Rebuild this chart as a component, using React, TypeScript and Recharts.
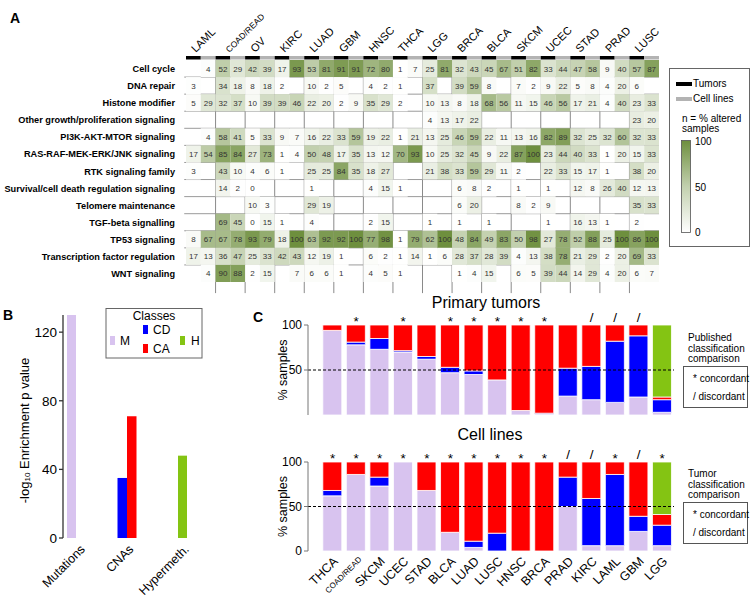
import React from 'react'
import {
  ScatterChart,
  Scatter,
  BarChart,
  Bar,
  XAxis,
  YAxis,
  ReferenceLine,
  ReferenceDot,
  Label,
} from 'recharts'

const FONT = '"Liberation Sans", Arial, sans-serif'
const _ = null

// ---- panel A: pathway alteration heatmap (tumor, cell line pairs) ----
const cancerTypes = ['LAML', 'COAD/READ', 'OV', 'KIRC', 'LUAD', 'GBM', 'HNSC', 'THCA', 'LGG', 'BRCA', 'BLCA', 'SKCM', 'UCEC', 'STAD', 'PRAD', 'LUSC']
const pathways = [
  'Cell cycle',
  'DNA repair',
  'Histone modifier',
  'Other growth/proliferation signaling',
  'PI3K-AKT-MTOR signaling',
  'RAS-RAF-MEK-ERK/JNK signaling',
  'RTK signaling family',
  'Survival/cell death regulation signaling',
  'Telomere maintenance',
  'TGF-beta signalling',
  'TP53 signaling',
  'Transcription factor regulation',
  'WNT signaling',
]

const cellCycle = [_, 4, 52, 29, 42, 39, 17, 93, 53, 81, 91, 91, 72, 80, 1, 7, 25, 81, 32, 43, 45, 67, 51, 82, 33, 44, 47, 58, 9, 40, 57, 87]
const dnaRepair = [3, _, 34, 18, 8, 18, 2, _, 10, 2, 5, _, 4, 2, 1, _, 37, _, 39, 59, 8, _, 7, 2, 9, 22, 5, 8, 4, 20, 6, _]
const histone = [5, 29, 32, 37, 10, 39, 39, 46, 22, 20, 2, 9, 35, 29, 2, _, 10, 13, 8, 18, 68, 56, 11, 15, 46, 56, 17, 21, 4, 40, 23, 33]
const otherGrowth = [_, _, _, _, _, _, _, _, _, _, _, _, _, _, _, _, 4, 13, 17, 22, _, _, _, _, _, _, _, _, _, _, 23, 20]
const pi3k = [_, 4, 58, 41, 5, 33, 9, 7, 16, 22, 33, 59, 19, 22, 1, 21, 13, 25, 46, 59, 22, 11, 13, 16, 82, 89, 32, 25, 32, 60, 32, 33]
const ras = [17, 54, 85, 84, 27, 73, 1, 4, 50, 48, 17, 35, 13, 12, 70, 93, 10, 25, 32, 45, 9, 22, 87, 100, 23, 44, 40, 33, 1, 20, 15, 33]
const rtk = [3, _, 43, 10, 4, 6, 1, _, 25, 25, 84, 35, 18, 27, _, _, 21, 38, 33, 59, 29, 11, 2, _, 22, 33, 15, 17, 1, _, 38, 20]
const survival = [_, _, 14, 2, 0, _, _, _, 1, _, _, _, 4, 15, 1, _, _, _, 6, 8, 2, _, 1, _, 1, _, 12, 8, 26, 40, 12, 13]
const telomere = [_, _, _, _, 10, 3, _, _, 29, 19, _, _, _, _, _, _, _, _, 6, 20, _, _, 8, 2, 9, _, _, _, _, _, 35, 33]
const tgfBeta = [_, _, 69, 45, 0, 15, 1, _, 4, _, _, _, 2, 15, _, _, 1, _, 1, _, 1, _, _, _, 1, _, 16, 13, 1, _, 2, _]
const tp53 = [8, 67, 67, 78, 93, 79, 18, 100, 63, 92, 92, 100, 77, 98, 1, 79, 62, 100, 48, 84, 49, 83, 50, 98, 27, 78, 52, 88, 25, 100, 86, 100]
const tfReg = [17, 13, 36, 47, 25, 33, 42, 43, 12, 19, 1, _, 6, 2, 1, 14, 1, 6, 28, 37, 28, 39, 4, 13, 38, 78, 21, 29, 2, 20, 69, 33]
const wnt = [_, 4, 90, 88, 2, 15, _, 7, 6, 6, 1, _, 4, 5, 1, _, _, _, 1, 4, 15, _, 6, 5, 39, 44, 14, 29, 4, 20, 6, 7]

const heatRows = [cellCycle, dnaRepair, histone, otherGrowth, pi3k, ras, rtk, survival, telomere, tgfBeta, tp53, tfReg, wnt]

const heatCells = heatRows.flatMap((vals, row) =>
  vals.map((v, col) => ({ row, col, v })).filter((c) => c.v !== null)
)

// ---- panel B: enrichment ----
const classCategories = ['Mutations', 'CNAs', 'Hypermeth.']
const enrichM = [130, _, _]
const enrichCD = [_, 35, _]
const enrichCA = [_, 71, _]
const enrichH = [_, _, 48]

const enrichRows = classCategories.map((cat, i) => ({
  cat,
  M: enrichM[i],
  H: enrichH[i],
  CD: enrichCD[i],
  CA: enrichCA[i],
}))

// ---- panel C: class composition ----
const cTypes = ['THCA', 'COAD/READ', 'SKCM', 'UCEC', 'STAD', 'BLCA', 'LUAD', 'LUSC', 'HNSC', 'BRCA', 'PRAD', 'KIRC', 'LAML', 'GBM', 'LGG']
const tumorM = [94, 78, 73, 70, 62, 47, 45, 39, 5, 1, 21, 17, 14, 20, 3]
const tumorCD = [0, 3, 12, 1.5, 3, 6, 4, 0, 0, 1, 31, 37, 68, 68, 14]
const tumorCA = [6, 19, 15, 28.5, 35, 47, 51, 61, 95, 98, 48, 46, 18, 12, 3]
const tumorH = [0, 0, 0, 0, 0, 0, 0, 0, 0, 0, 0, 0, 0, 0, 80]
const tumorMarks = ['', '*', '', '*', '', '*', '*', '*', '*', '*', '', '/', '/', '/', '']

const cellM = [62, 86, 73, 100, 68, 21, 4, 0, 0, 0, 50, 6, 6, 22, 6]
const cellCD = [6, 0, 10, 0, 0, 0, 7, 20, 0, 0, 33, 53, 80, 17, 23]
const cellCA = [32, 14, 17, 0, 32, 79, 89, 80, 100, 100, 17, 41, 14, 61, 12]
const cellH = [0, 0, 0, 0, 0, 0, 0, 0, 0, 0, 0, 0, 0, 0, 59]
const cellMarks = ['*', '*', '*', '*', '*', '*', '*', '*', '*', '*', '/', '/', '*', '/', '*']

const tumorRows = cTypes.map((type, i) => ({ type, M: tumorM[i], CD: tumorCD[i], CA: tumorCA[i], H: tumorH[i] }))
const cellRows = cTypes.map((type, i) => ({ type, M: cellM[i], CD: cellCD[i], CA: cellCA[i], H: cellH[i] }))

const LAV = '#d8c3ef'
const BLUE = '#0000ff'
const RED = '#ff0000'
const GREEN = '#84c413'

// heatmap geometry
const HEAT_W = 690
const HEAT_H = 300
const HEAT_LEFT = 186
const HEAT_TOP = 60
const HEAT_RIGHT = 31
const HEAT_BOTTOM = 18
const CW = (HEAT_W - HEAT_LEFT - HEAT_RIGHT) / 32
const CH = (HEAT_H - HEAT_TOP - HEAT_BOTTOM) / 13

const heatColor = (v: number) => {
  const t = Math.pow(v / 100, 1.25)
  const mix = (a: number, b: number) => Math.round(a + (b - a) * t)
  return `rgb(${mix(255, 110)},${mix(255, 143)},${mix(255, 62)})`
}

const HeatCell = (props: any) => {
  const { cx, cy, payload } = props
  return (
    <g>
      <rect x={cx - CW / 2} y={cy - CH / 2} width={CW} height={CH} fill={heatColor(payload.v)} />
      <text x={cx} y={cy + 3} textAnchor="middle" fontSize={8} fill="#333" fontFamily={FONT}>
        {payload.v}
      </text>
    </g>
  )
}

const HeaderTick = (props: any) => {
  const { x, y, payload } = props
  const name = cancerTypes[Math.round((payload.value - 0.5) / 2)]
  const small = name.length > 5
  const lx = x - (small ? 1 : 5)
  const ly = y - 7
  return (
    <g>
      <rect x={x - CW} y={y - 4} width={CW} height={3.5} fill="#000" />
      <rect x={x} y={y - 4} width={CW} height={3.5} fill="#b3b3b3" />
      <text
        x={lx}
        y={ly}
        transform={`rotate(-45 ${lx} ${ly})`}
        fontSize={small ? 8.5 : 11}
        fontFamily={FONT}
        fill="#000"
      >
        {name}
      </text>
    </g>
  )
}

const RowTick = (props: any) => {
  const { x, y, payload } = props
  return (
    <text x={x} y={y + 3.5} textAnchor="end" fontSize={9.2} fontWeight={700} fontFamily={FONT} fill="#000">
      {pathways[payload.value]}
    </text>
  )
}

const pairTicks = cancerTypes.map((_c, i) => i * 2 + 0.5)
const rowTicks = pathways.map((_p, i) => i)
const pairSeparators = cancerTypes.slice(1).map((_c, i) => i * 2 + 1.5)
const rowSeparators = pathways.slice(1).map((_p, i) => i + 0.5)

const BTick = (props: any) => {
  const { x, y, payload } = props
  const ax = x + (payload.index === 0 ? 14 : 7)
  const ay = y + 12
  return (
    <text x={ax} y={ay} transform={`rotate(-45 ${ax} ${ay})`} textAnchor="end" fontSize={12.5} fontFamily={FONT} fill="#000">
      {payload.value}
    </text>
  )
}

const CTick = (props: any) => {
  const { x, y, payload } = props
  const small = payload.value.length > 5
  const ax = x + 6
  const ay = y + (small ? 9 : 11)
  return (
    <text x={ax} y={ay} transform={`rotate(-45 ${ax} ${ay})`} textAnchor="end" fontSize={small ? 8 : 12.5} fontFamily={FONT} fill="#000">
      {payload.value}
    </text>
  )
}

const markShape = (m: string) => (props: any) => {
  const { cx, cy } = props
  return (
    <text x={cx} y={m === '*' ? cy + 1 : cy - 3} textAnchor="middle" fontSize={13.5} fontFamily={FONT} fill="#000">
      {m}
    </text>
  )
}

const samplesLabel = (props: any) => {
  const { viewBox } = props
  const x = viewBox.x + 23
  const y = viewBox.y + viewBox.height / 2
  return (
    <text x={x} y={y} transform={`rotate(-90 ${x} ${y})`} textAnchor="middle" dominantBaseline="central" fontSize={12.5} fontFamily={FONT} fill="#000">
      % samples
    </text>
  )
}

const enrichLabel = (props: any) => {
  const { viewBox } = props
  const x = viewBox.x + 24
  const y = viewBox.y + viewBox.height / 2 + 4
  return (
    <text x={x} y={y} transform={`rotate(-90 ${x} ${y})`} textAnchor="middle" dominantBaseline="central" fontSize={13} fontFamily={FONT} fill="#000">
      <tspan>-log</tspan>
      <tspan fontSize={8} dy={3}>10</tspan>
      <tspan dy={-3}> Enrichment p value</tspan>
    </text>
  )
}

const axisTick = { fontSize: 12, fill: '#000', fontFamily: FONT }

const CompositionChart = ({ data, marks, showX, top, height, marginTop }: any) => (
  <div style={{ position: 'absolute', left: 260, top }}>
    <BarChart
      width={414}
      height={height}
      data={data}
      margin={{ top: marginTop, right: 0, bottom: showX ? 0 : 5, left: 0 }}
      barSize={19}
    >
      <XAxis
        dataKey="type"
        hide={!showX}
        height={57}
        padding={{ left: 12.8, right: 0 }}
        axisLine={false}
        tickLine={false}
        tickSize={0}
        tickMargin={0}
        interval={0}
        tick={CTick}
      />
      <YAxis
        domain={[0, 100]}
        ticks={[0, 50, 100]}
        width={48}
        tickSize={4}
        tickMargin={2}
        tick={axisTick}
        stroke="#777"
        tickLine={{ stroke: '#777' }}
      >
        <Label content={samplesLabel} />
      </YAxis>
      <Bar dataKey="M" stackId="s" fill={LAV} stroke="#fff" strokeWidth={0.8} isAnimationActive={false} />
      <Bar dataKey="CD" stackId="s" fill={BLUE} stroke="#fff" strokeWidth={0.8} isAnimationActive={false} />
      <Bar dataKey="CA" stackId="s" fill={RED} stroke="#fff" strokeWidth={0.8} isAnimationActive={false} />
      <Bar dataKey="H" stackId="s" fill={GREEN} stroke="#fff" strokeWidth={0.8} isAnimationActive={false} />
      <ReferenceLine y={50} stroke="#000" strokeDasharray="3 2" />
      {data.map((d: any, i: number) =>
        marks[i] ? (
          <ReferenceDot key={d.type} x={d.type} y={100} r={0} ifOverflow="visible" shape={markShape(marks[i])} />
        ) : null
      )}
    </BarChart>
  </div>
)

const txt = { fontFamily: FONT, fill: '#000' }

const App = () => {
  return (
    <div style={{ position: 'absolute', left: 0, top: 0, width: 754, height: 608, background: '#fff', fontFamily: FONT }}>
      {/* A: heatmap */}
      <div style={{ position: 'absolute', left: 0, top: 0 }}>
        <ScatterChart width={HEAT_W} height={HEAT_H} margin={{ top: 0, right: HEAT_RIGHT, bottom: HEAT_BOTTOM, left: 0 }}>
          <XAxis
            type="number"
            dataKey="col"
            orientation="top"
            domain={[-0.5, 31.5]}
            ticks={pairTicks}
            interval={0}
            height={HEAT_TOP}
            axisLine={false}
            tickLine={false}
            tickSize={0}
            tickMargin={0}
            tick={HeaderTick}
          />
          <YAxis
            type="number"
            dataKey="row"
            domain={[-0.5, 12.5]}
            reversed
            ticks={rowTicks}
            interval={0}
            width={HEAT_LEFT}
            axisLine={false}
            tickLine={false}
            tickSize={0}
            tickMargin={11}
            tick={RowTick}
          />
          <Scatter data={heatCells} shape={HeatCell} isAnimationActive={false} />
          {rowSeparators.map((y) => (
            <ReferenceLine
              key={`h${y}`}
              segment={[{ x: -0.62, y }, { x: 31.5, y }]}
              stroke="#9a9a9a"
              ifOverflow="visible"
            />
          ))}
          {pairSeparators.map((x) => (
            <ReferenceLine
              key={`v${x}`}
              segment={[{ x, y: -0.5 }, { x, y: 13.15 }]}
              stroke="#8a8a8a"
              ifOverflow="visible"
            />
          ))}
        </ScatterChart>
      </div>

      {/* B: enrichment bars */}
      <div style={{ position: 'absolute', left: 0, top: 300 }}>
        <BarChart width={230} height={300} data={enrichRows} margin={{ top: 15, right: 0, bottom: 7, left: 0 }} barGap={0}>
          <XAxis
            xAxisId="a"
            dataKey="cat"
            padding={{ left: -19, right: 19.5 }}
            height={55}
            axisLine={false}
            tickLine={false}
            tickSize={0}
            tickMargin={0}
            interval={0}
            tick={BTick}
          />
          <XAxis xAxisId="b" dataKey="cat" padding={{ left: -19, right: 19.5 }} hide />
          <YAxis
            domain={[0, 130]}
            ticks={[0, 40, 80, 120]}
            width={63}
            tickSize={4}
            tickMargin={2}
            tick={{ fontSize: 13.5, fill: '#000', fontFamily: FONT }}
            stroke="#333"
            strokeWidth={1.3}
          >
            <Label content={enrichLabel} />
          </YAxis>
          <Bar xAxisId="a" dataKey="M" stackId="mh" fill={LAV} barSize={9} isAnimationActive={false} />
          <Bar xAxisId="a" dataKey="H" stackId="mh" fill={GREEN} barSize={9} isAnimationActive={false} />
          <Bar xAxisId="b" dataKey="CD" fill={BLUE} barSize={9.5} isAnimationActive={false} />
          <Bar xAxisId="b" dataKey="CA" fill={RED} barSize={9.5} isAnimationActive={false} />
        </BarChart>
      </div>

      {/* C: composition */}
      <CompositionChart data={tumorRows} marks={tumorMarks} showX={false} top={303} height={117} marginTop={22} />
      <CompositionChart data={cellRows} marks={cellMarks} showX top={445} height={163} marginTop={17} />

      {/* annotations, legends */}
      <svg width={754} height={608} style={{ position: 'absolute', left: 0, top: 0, pointerEvents: 'none' }}>
        <defs>
          <linearGradient id="heatGrad" x1="0" y1="1" x2="0" y2="0">
            <stop offset="0%" stopColor={heatColor(0)} />
            <stop offset="50%" stopColor={heatColor(50)} />
            <stop offset="100%" stopColor={heatColor(100)} />
          </linearGradient>
        </defs>
        <text x={10} y={23} fontSize={14} fontWeight={700} {...txt}>A</text>
        <text x={3} y={320} fontSize={14} fontWeight={700} {...txt}>B</text>
        <text x={253} y={322} fontSize={14} fontWeight={700} {...txt}>C</text>

        {/* heatmap legend */}
        <rect x={669.5} y={68.5} width={80} height={178} fill="none" stroke="#666" />
        <rect x={676} y={82} width={16} height={4} fill="#000" />
        <text x={693} y={87} fontSize={10} {...txt}>Tumors</text>
        <rect x={676} y={97} width={16} height={4} fill="#b3b3b3" />
        <text x={693} y={102} fontSize={10} {...txt}>Cell lines</text>
        <text x={682} y={122} fontSize={10} {...txt}>n = % altered</text>
        <text x={682} y={132} fontSize={10} {...txt}>samples</text>
        <rect x={681.5} y={140.5} width={9} height={92} fill="url(#heatGrad)" stroke="#555" strokeWidth={0.8} />
        <text x={695} y={145} fontSize={10} {...txt}>100</text>
        <text x={695} y={191} fontSize={10} {...txt}>50</text>
        <text x={695} y={236} fontSize={10} {...txt}>0</text>

        {/* B legend */}
        <rect x={106} y={308.5} width={96} height={49.5} fill="none" stroke="#666" />
        <text x={154} y={320} fontSize={12} textAnchor="middle" {...txt}>Classes</text>
        <rect x={110} y={336} width={5} height={9} fill={LAV} />
        <text x={120} y={344.5} fontSize={12} {...txt}>M</text>
        <rect x={143} y={325} width={5} height={9} fill={BLUE} />
        <text x={153} y={334} fontSize={12} {...txt}>CD</text>
        <rect x={143} y={344} width={5} height={9} fill={RED} />
        <text x={153} y={353} fontSize={12} {...txt}>CA</text>
        <rect x={180} y={336} width={5} height={9} fill={GREEN} />
        <text x={191} y={344.5} fontSize={12} {...txt}>H</text>

        {/* C titles and notes */}
        <text x={486} y={308} fontSize={16} textAnchor="middle" {...txt}>Primary tumors</text>
        <text x={490} y={440} fontSize={16} textAnchor="middle" {...txt}>Cell lines</text>

        <text x={688} y={340.5} fontSize={10} {...txt}>Published</text>
        <text x={688} y={351.5} fontSize={10} {...txt}>classification</text>
        <text x={688} y={361.5} fontSize={10} {...txt}>comparison</text>
        <rect x={683.5} y={366.5} width={64} height={41} fill="none" stroke="#555" />
        <text x={693} y={382} fontSize={10} {...txt}>* concordant</text>
        <text x={693} y={400} fontSize={10} {...txt}>/ discordant</text>

        <text x={688} y={476.5} fontSize={10} {...txt}>Tumor</text>
        <text x={688} y={487.5} fontSize={10} {...txt}>classification</text>
        <text x={688} y={497.5} fontSize={10} {...txt}>comparison</text>
        <rect x={683.5} y={502.5} width={64} height={41} fill="none" stroke="#555" />
        <text x={693} y={518} fontSize={10} {...txt}>* concordant</text>
        <text x={693} y={536} fontSize={10} {...txt}>/ discordant</text>
      </svg>
    </div>
  )
}

export default App
